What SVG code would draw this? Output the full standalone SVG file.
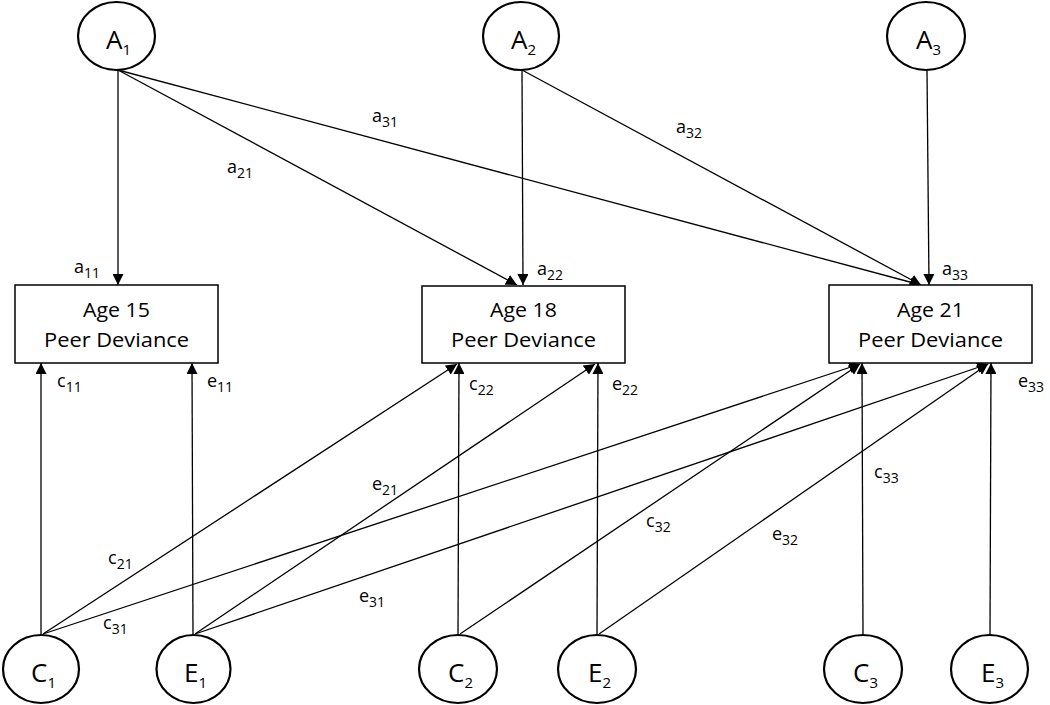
<svg xmlns="http://www.w3.org/2000/svg" width="1050" height="705" viewBox="0 0 1050 705">
<style>
  .node ellipse { fill: #fff; stroke: #000; stroke-width: 2.2; }
  .node rect { fill: #fff; stroke: #000; stroke-width: 1.5; }
  .lat { font-family: "Open Sans", "Liberation Sans", sans-serif; font-size: 26px; fill: #000; }
  .box { font-family: "Open Sans", "Liberation Sans", sans-serif; font-size: 20px; fill: #000; text-anchor: middle; }
  .lbl { font-family: "Open Sans", "Liberation Sans", sans-serif; font-size: 18px; fill: #000; }
  .sub { font-size: 14px; }
  .sub2 { font-size: 15px; }
  #connectors line { stroke: #000; stroke-width: 1.3; marker-end: url(#arr); }
</style>
<defs>
  <marker id="arr" viewBox="0 0 10 10" refX="10" refY="5" markerWidth="11" markerHeight="11" markerUnits="userSpaceOnUse" orient="auto">
    <path d="M0,0 L10,5 L0,10 z" fill="#000"/>
  </marker>
</defs>
<rect width="1050" height="705" fill="#fff"/>

<g id="connectors">
  <line x1="118" y1="70" x2="118" y2="285"/>
  <line x1="118" y1="70" x2="517" y2="285"/>
  <line x1="118" y1="70" x2="921" y2="285"/>
  <line x1="522" y1="70" x2="523" y2="285"/>
  <line x1="522" y1="70" x2="921" y2="285"/>
  <line x1="927" y1="70" x2="929" y2="285"/>
  <line x1="41" y1="635" x2="41" y2="363"/>
  <line x1="193" y1="635" x2="192" y2="363"/>
  <line x1="43" y1="634" x2="457" y2="364"/>
  <line x1="43" y1="634" x2="860" y2="364"/>
  <line x1="195" y1="634" x2="595" y2="364"/>
  <line x1="195" y1="634" x2="988" y2="364"/>
  <line x1="458" y1="635" x2="459" y2="363"/>
  <line x1="460" y1="634" x2="860" y2="364"/>
  <line x1="597" y1="635" x2="598" y2="363"/>
  <line x1="599" y1="634" x2="988" y2="364"/>
  <line x1="863" y1="635" x2="862" y2="363"/>
  <line x1="990" y1="635" x2="991" y2="363"/>
</g>

<g id="labels">
  <text class="lbl" x="74" y="273">a<tspan class="sub" dy="5">11</tspan></text>
  <text class="lbl" x="227" y="173">a<tspan class="sub" dy="5">21</tspan></text>
  <text class="lbl" x="372" y="122">a<tspan class="sub" dy="5">31</tspan></text>
  <text class="lbl" x="537" y="275">a<tspan class="sub" dy="5">22</tspan></text>
  <text class="lbl" x="676" y="133">a<tspan class="sub" dy="5">32</tspan></text>
  <text class="lbl" x="942" y="275">a<tspan class="sub" dy="5">33</tspan></text>
  <text class="lbl" x="57" y="387">c<tspan class="sub" dy="5">11</tspan></text>
  <text class="lbl" x="207" y="387">e<tspan class="sub" dy="5">11</tspan></text>
  <text class="lbl" x="469" y="390">c<tspan class="sub" dy="5">22</tspan></text>
  <text class="lbl" x="612" y="390">e<tspan class="sub" dy="5">22</tspan></text>
  <text class="lbl" x="1018" y="387">e<tspan class="sub" dy="5">33</tspan></text>
  <text class="lbl" x="108" y="564">c<tspan class="sub" dy="5">21</tspan></text>
  <text class="lbl" x="103" y="629">c<tspan class="sub" dy="5">31</tspan></text>
  <text class="lbl" x="372" y="490">e<tspan class="sub" dy="5">21</tspan></text>
  <text class="lbl" x="359" y="602">e<tspan class="sub" dy="5">31</tspan></text>
  <text class="lbl" x="646" y="527">c<tspan class="sub" dy="5">32</tspan></text>
  <text class="lbl" x="772" y="540">e<tspan class="sub" dy="5">32</tspan></text>
  <text class="lbl" x="874" y="478">c<tspan class="sub" dy="5">33</tspan></text>
</g>

<g id="A1" class="node">
  <ellipse cx="116.5" cy="36" rx="38.5" ry="34"/>
  <text class="lat" x="106" y="49">A<tspan class="sub2" dy="6">1</tspan></text>
</g>
<g id="A2" class="node">
  <ellipse cx="521" cy="36" rx="38" ry="34"/>
  <text class="lat" x="511" y="49">A<tspan class="sub2" dy="6">2</tspan></text>
</g>
<g id="A3" class="node">
  <ellipse cx="926" cy="36" rx="39" ry="34"/>
  <text class="lat" x="916" y="49">A<tspan class="sub2" dy="6">3</tspan></text>
</g>

<g id="Age15" class="node">
  <rect x="15" y="285" width="203" height="78"/>
  <text class="box" x="116.5" y="317" textLength="67" lengthAdjust="spacingAndGlyphs">Age 15</text>
  <text class="box" x="116.5" y="347" textLength="145" lengthAdjust="spacingAndGlyphs">Peer Deviance</text>
</g>
<g id="Age18" class="node">
  <rect x="422" y="286" width="203" height="77"/>
  <text class="box" x="523.5" y="317" textLength="67" lengthAdjust="spacingAndGlyphs">Age 18</text>
  <text class="box" x="523.5" y="347" textLength="145" lengthAdjust="spacingAndGlyphs">Peer Deviance</text>
</g>
<g id="Age21" class="node">
  <rect x="829" y="285" width="203" height="78"/>
  <text class="box" x="930.5" y="317" textLength="67" lengthAdjust="spacingAndGlyphs">Age 21</text>
  <text class="box" x="930.5" y="347" textLength="145" lengthAdjust="spacingAndGlyphs">Peer Deviance</text>
</g>

<g id="C1" class="node">
  <ellipse cx="41" cy="669" rx="38" ry="34"/>
  <text class="lat" x="31" y="682">C<tspan class="sub2" dy="6">1</tspan></text>
</g>
<g id="E1" class="node">
  <ellipse cx="193.5" cy="669" rx="37" ry="34"/>
  <text class="lat" x="184" y="682">E<tspan class="sub2" dy="6">1</tspan></text>
</g>
<g id="C2" class="node">
  <ellipse cx="458" cy="669" rx="39" ry="34"/>
  <text class="lat" x="448" y="682">C<tspan class="sub2" dy="6">2</tspan></text>
</g>
<g id="E2" class="node">
  <ellipse cx="597" cy="669" rx="39" ry="34"/>
  <text class="lat" x="588" y="682">E<tspan class="sub2" dy="6">2</tspan></text>
</g>
<g id="C3" class="node">
  <ellipse cx="863" cy="669" rx="39" ry="34"/>
  <text class="lat" x="853" y="682">C<tspan class="sub2" dy="6">3</tspan></text>
</g>
<g id="E3" class="node">
  <ellipse cx="989.5" cy="669" rx="38.5" ry="34"/>
  <text class="lat" x="981" y="682">E<tspan class="sub2" dy="6">3</tspan></text>
</g>
</svg>
